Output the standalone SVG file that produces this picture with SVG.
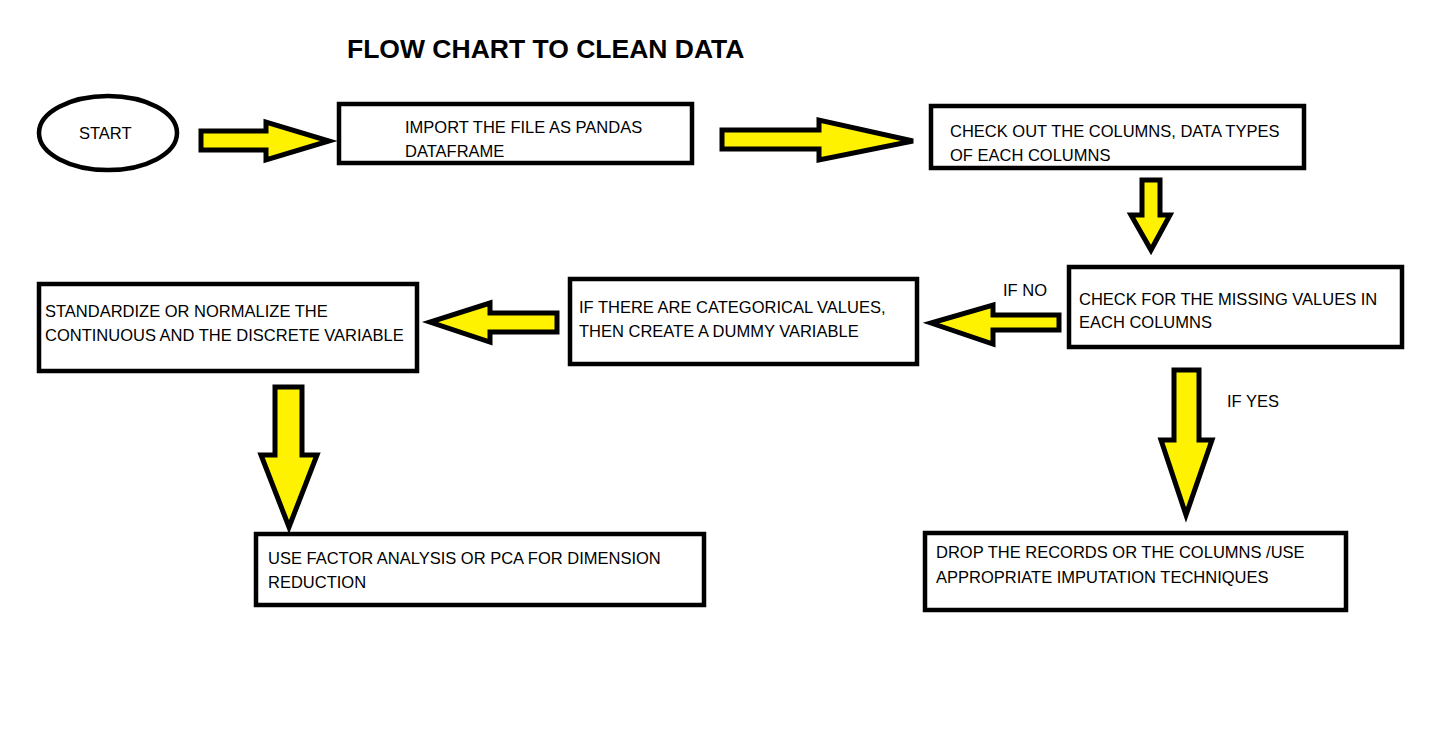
<svg xmlns="http://www.w3.org/2000/svg" width="1432" height="747" viewBox="0 0 1432 747">
<style>
.box{fill:#fff;stroke:#000;stroke-width:4.5}
.arr{fill:#fff200;stroke:#000;stroke-width:5;stroke-linejoin:miter}
text{font-family:"Liberation Sans",Arial,sans-serif;font-size:16.5px;fill:#000}
.title{font-size:26.5px;font-weight:bold}
</style>
<rect width="1432" height="747" fill="#fff"/>
<text class="title" x="347" y="58">FLOW CHART TO CLEAN DATA</text>
<g id="connectors">
<polygon class="arr" points="201,131 266,131 266,122 329,141 266,160 266,150 201,150"/>
<polygon class="arr" points="722,130 819,130 819,120 913,141 819,160 819,149 722,149"/>
<polygon class="arr" points="1142,180 1160,180 1160,215 1170,215 1151,250 1131,215 1142,215"/>
<polygon class="arr" points="1059,315 993,315 993,305 931,323 993,344 993,330 1059,330"/>
<polygon class="arr" points="557,313 490,313 490,303 430,322 490,342 490,332 557,332"/>
<polygon class="arr" points="275,387 302,387 302,455 317,455 289,527 261,455 275,455"/>
<polygon class="arr" points="1174,370 1199,370 1199,440 1212,440 1186,515 1161,440 1174,440"/>
<text x="1003" y="296">IF NO</text>
<text x="1227" y="407">IF YES</text>
</g>
<g id="start">
<ellipse cx="108" cy="133" rx="69" ry="37" fill="#fff" stroke="#000" stroke-width="4.5"/>
<text x="79" y="139">START</text>
</g>
<g id="import">
<rect class="box" x="339" y="104" width="353" height="59"/>
<text x="405" y="133">IMPORT THE FILE AS PANDAS</text>
<text x="405" y="157">DATAFRAME</text>
</g>
<g id="check-columns">
<rect class="box" x="931" y="106" width="373" height="62"/>
<text x="950" y="137">CHECK OUT THE COLUMNS, DATA TYPES</text>
<text x="950" y="161">OF EACH COLUMNS</text>
</g>
<g id="check-missing">
<rect class="box" x="1069" y="267" width="333" height="80"/>
<text x="1079" y="305">CHECK FOR THE MISSING VALUES IN</text>
<text x="1079" y="328">EACH COLUMNS</text>
</g>
<g id="dummy">
<rect class="box" x="570" y="279" width="347" height="85"/>
<text x="579" y="313">IF THERE ARE CATEGORICAL VALUES,</text>
<text x="579" y="337">THEN CREATE A DUMMY VARIABLE</text>
</g>
<g id="standardize">
<rect class="box" x="39" y="284" width="378" height="87"/>
<text x="45" y="317">STANDARDIZE OR NORMALIZE THE</text>
<text x="45" y="341">CONTINUOUS AND THE DISCRETE VARIABLE</text>
</g>
<g id="factor">
<rect class="box" x="256" y="534" width="448" height="71"/>
<text x="268" y="564">USE FACTOR ANALYSIS OR PCA FOR DIMENSION</text>
<text x="268" y="588">REDUCTION</text>
</g>
<g id="drop">
<rect class="box" x="925" y="533" width="421" height="77"/>
<text x="936" y="558">DROP THE RECORDS OR THE COLUMNS /USE</text>
<text x="936" y="583">APPROPRIATE IMPUTATION TECHNIQUES</text>
</g>
</svg>
